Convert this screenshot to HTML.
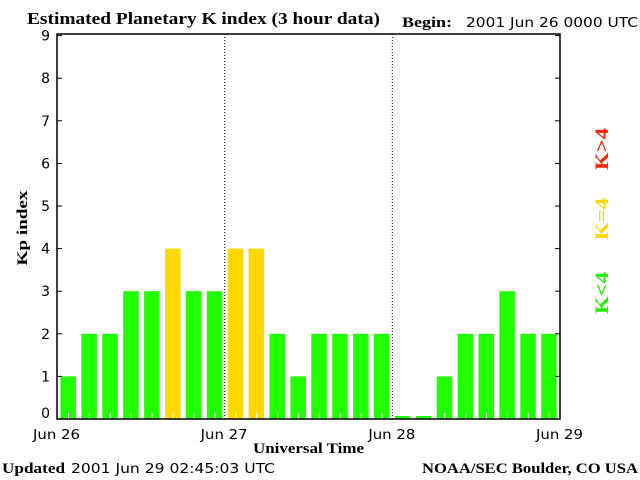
<!DOCTYPE html>
<html><head><meta charset="utf-8"><style>
html,body{margin:0;padding:0;background:#fff;}
svg{display:block;}
.s{font-family:"DejaVu Sans","Liberation Sans",sans-serif;font-size:13px;}
.b{font-family:"Liberation Serif",serif;font-weight:bold;font-size:15px;}
</style></head><body>
<svg id="chart" width="640" height="480" xmlns="http://www.w3.org/2000/svg">
<text class="b" x="27" y="24" textLength="353" lengthAdjust="spacingAndGlyphs" style="font-size:17px">Estimated Planetary K index (3 hour data)</text>
<text class="b" x="402" y="27" textLength="50" lengthAdjust="spacingAndGlyphs">Begin:</text>
<text class="s" x="466" y="27" textLength="172" lengthAdjust="spacingAndGlyphs">2001 Jun 26 0000 UTC</text>
<text class="b" transform="translate(27,228) rotate(-90)" text-anchor="middle" textLength="75" lengthAdjust="spacingAndGlyphs">Kp index</text>
<text class="b" x="253" y="453" textLength="111" lengthAdjust="spacingAndGlyphs">Universal Time</text>
<text class="b" x="2" y="473" textLength="63" lengthAdjust="spacingAndGlyphs">Updated</text>
<text class="s" x="71" y="473" textLength="204" lengthAdjust="spacingAndGlyphs">2001 Jun 29 02:45:03 UTC</text>
<text class="b" x="422" y="473" textLength="216" lengthAdjust="spacingAndGlyphs">NOAA/SEC Boulder, CO USA</text>
<text class="b" transform="translate(608,293) rotate(-90)" text-anchor="middle" fill="#22ee00" textLength="42" lengthAdjust="spacingAndGlyphs" style="font-size:19px">K&lt;4</text>
<text class="b" transform="translate(608,219) rotate(-90)" text-anchor="middle" fill="#ffd700" textLength="42" lengthAdjust="spacingAndGlyphs" style="font-size:19px">K=4</text>
<text class="b" transform="translate(608,149) rotate(-90)" text-anchor="middle" fill="#ff2200" textLength="42" lengthAdjust="spacingAndGlyphs" style="font-size:19px">K&gt;4</text>
<g id="plot"></g>
</svg>
<script>
const kpValues=[1,2,2,3,3,4,3,3, 4,4,2,1,2,2,2,2, 0,0,1,2,2,3,2,2];
const dayLabels=["Jun 26","Jun 27","Jun 28","Jun 29"];
const yTicks=[0,1,2,3,4,5,6,7,8,9];
const NS="http://www.w3.org/2000/svg";
const L=57,R=560,T=34,B=419;
const slot=20.9;
function yS(v){return B-v*42.6;}
function xS(i){return L+3.5+slot*i;}
const g=document.getElementById('plot');
function mk(t,a){const e=document.createElementNS(NS,t);for(const k in a)e.setAttribute(k,a[k]);g.appendChild(e);return e;}
kpValues.forEach((v,i)=>{
  const top=v===0?B-3:yS(v);
  const col=v<4?"#22ff00":(v===4?"#ffd800":"#ff2200");
  const r=mk('rect',{x:xS(i),y:top,width:15.5,height:B-top,fill:col});
  
  
  if(v>0){const t=mk('line',{x1:xS(i)+8,x2:xS(i)+8,y1:B-6,y2:B,stroke:"#fff"});
  
  }
});
dayLabels.forEach((d,i)=>{
  const x=L+(R-L)/3*i;
  if(i>0&&i<3){const l=mk('line',{x1:x,x2:x,y1:T,y2:B,stroke:"#000","stroke-dasharray":"1,2"});
  
  }
  const t=mk('text',{x:x-24,y:439,class:"s",textLength:47,lengthAdjust:"spacingAndGlyphs"});t.textContent=d;
  
  
});
yTicks.forEach(v=>{
  const y=yS(v);
  const a=mk('line',{x1:L,x2:L+5,y1:y,y2:y,stroke:"#000"});
  
  
  const b=mk('line',{x1:R-5,x2:R,y1:y,y2:y,stroke:"#000"});
  
  
  const t=mk('text',{x:50,y:(v===0?413:y)+5,"text-anchor":"end",class:"s",style:"font-size:14px"});t.textContent=v;
  
  
});
const f=mk('rect',{x:L,y:T,width:R-L,height:B-T,fill:"none",stroke:"#000","stroke-width":1.5});


</script>
</body></html>
